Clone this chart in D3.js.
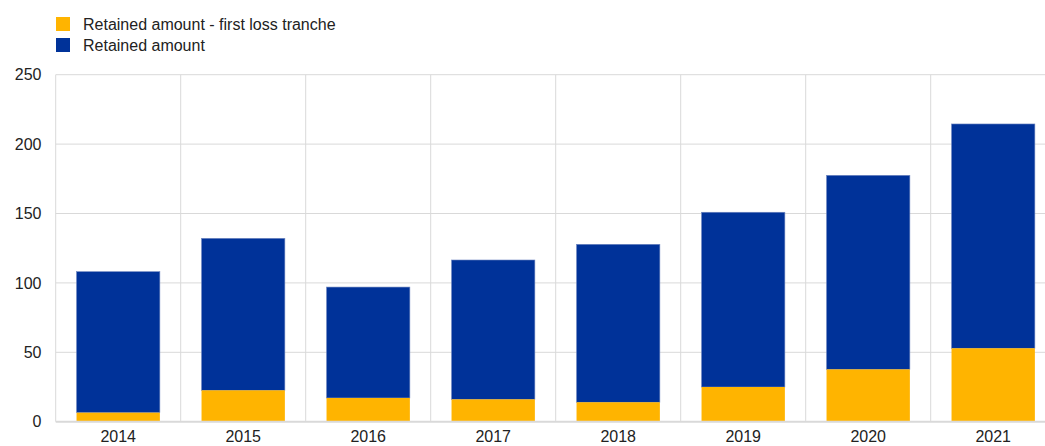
<!DOCTYPE html>
<html>
<head>
<meta charset="utf-8">
<script src="https://cdn.jsdelivr.net/npm/d3@7"></script>
<style>
  body { margin: 0; background: #fff; }
  svg { display: block; font-family: Arial, "Liberation Sans", sans-serif; }
</style>
</head>
<body>
<svg id="chart"></svg>
<script>
var years = ["2014", "2015", "2016", "2017", "2018", "2019", "2020", "2021"];
var firstLoss = [6.5, 22.6, 17.1, 16.1, 14.0, 25.0, 37.7, 52.9];
var totalRetained = [108.1, 132.1, 97.0, 116.5, 127.8, 150.9, 177.5, 214.5];
var yTicks = [0, 50, 100, 150, 200, 250];
var seriesNames = ["Retained amount - first loss tranche", "Retained amount"];
var seriesColors = ["#ffb400", "#003299"];

var W = 1045, H = 446;
var margin = {top: 74.7, left: 55.7, bottom: 24.3};
var plotRight = 1055.7; // plot runs past the right edge of the window
var fontSize = 16;

var svg = d3.select("#chart")
    .attr("width", W)
    .attr("height", H);

var x = d3.scaleBand()
    .domain(years)
    .range([margin.left, plotRight])
    .paddingInner(1 / 3)
    .paddingOuter(1 / 6);

var y = d3.scaleLinear()
    .domain([0, 250])
    .range([H - margin.bottom, margin.top]);

// horizontal grid
svg.append("g")
    .selectAll("line")
    .data(yTicks.filter(function(d) { return d > 0; }))
    .enter()
    .append("line")
    .attr("x1", margin.left)
    .attr("x2", plotRight)
    .attr("y1", function(d) { return y(d); })
    .attr("y2", function(d) { return y(d); })
    .attr("stroke", "#d9d9d9")
    .attr("stroke-width", 1);

// vertical grid between categories
var step = x.step();
var edges = d3.range(years.length + 1).map(function(i) { return margin.left + i * step; });
svg.append("g")
    .selectAll("line")
    .data(edges)
    .enter()
    .append("line")
    .attr("x1", function(d) { return d; })
    .attr("x2", function(d) { return d; })
    .attr("y1", y(250))
    .attr("y2", y(0))
    .attr("stroke", "#d9d9d9")
    .attr("stroke-width", 1);

// y labels
svg.append("g")
    .selectAll("text")
    .data(yTicks)
    .enter()
    .append("text")
    .attr("x", 41.5)
    .attr("y", function(d) { return y(d); })
    .attr("dy", "0.35em")
    .attr("text-anchor", "end")
    .attr("font-size", fontSize)
    .attr("fill", "#222")
    .text(function(d) { return d; });

// stacked bars
var rows = years.map(function(yr, i) {
    return {year: yr, low: firstLoss[i], total: totalRetained[i]};
});

svg.append("g")
    .selectAll("rect")
    .data(rows)
    .enter()
    .append("rect")
    .attr("x", function(d) { return x(d.year); })
    .attr("width", x.bandwidth())
    .attr("y", function(d) { return y(d.total); })
    .attr("height", function(d) { return y(d.low) - y(d.total); })
    .attr("fill", seriesColors[1])
    .attr("stroke", "#6f86c0")
    .attr("stroke-width", 0.6);

svg.append("g")
    .selectAll("rect")
    .data(rows)
    .enter()
    .append("rect")
    .attr("x", function(d) { return x(d.year); })
    .attr("width", x.bandwidth())
    .attr("y", function(d) { return y(d.low); })
    .attr("height", function(d) { return y(0) - y(d.low); })
    .attr("fill", seriesColors[0]);

// baseline
svg.append("line")
    .attr("x1", margin.left)
    .attr("x2", plotRight)
    .attr("y1", y(0))
    .attr("y2", y(0))
    .attr("stroke", "#d9d9d9")
    .attr("stroke-width", 2);

// x labels
svg.append("g")
    .selectAll("text")
    .data(years)
    .enter()
    .append("text")
    .attr("x", function(d) { return x(d) + x.bandwidth() / 2; })
    .attr("y", 442)
    .attr("text-anchor", "middle")
    .attr("font-size", fontSize)
    .attr("fill", "#222")
    .text(function(d) { return d; });

// legend
var legend = svg.append("g")
    .selectAll("g")
    .data(seriesNames)
    .enter()
    .append("g")
    .attr("transform", function(d, i) { return "translate(56," + (17 + i * 21) + ")"; });

legend.append("rect")
    .attr("width", 14)
    .attr("height", 14)
    .attr("fill", function(d, i) { return seriesColors[i]; });

legend.append("text")
    .attr("x", 27)
    .attr("y", 7)
    .attr("dy", "0.35em")
    .attr("font-size", fontSize)
    .attr("fill", "#222")
    .text(function(d) { return d; });
</script>
</body>
</html>
